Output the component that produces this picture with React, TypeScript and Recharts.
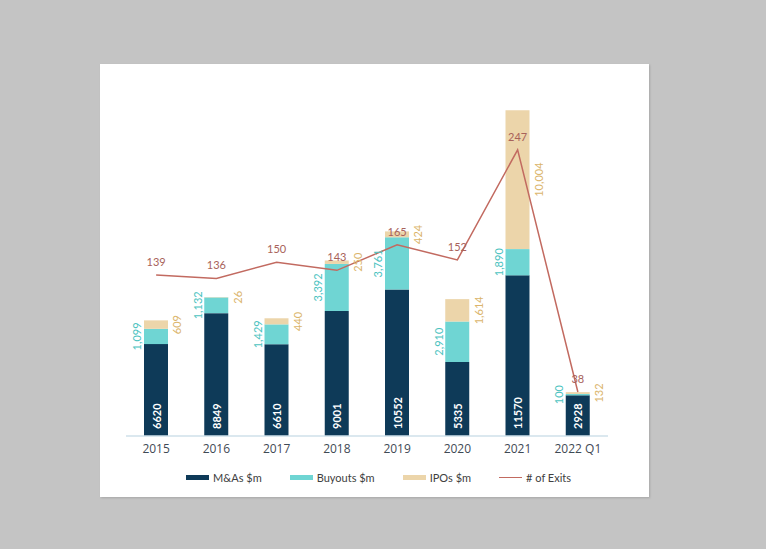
import React from 'react'
import {
  ComposedChart,
  Bar,
  Line,
  XAxis,
  YAxis,
  Legend,
  LabelList,
} from 'recharts'

const years = ['2015', '2016', '2017', '2018', '2019', '2020', '2021', '2022 Q1']
const mnaValues = [6620, 8849, 6610, 9001, 10552, 5335, 11570, 2928]
const buyoutValues = [1099, 1132, 1429, 3392, 3761, 2910, 1890, 100]
const ipoValues = [609, 26, 440, 250, 424, 1614, 10004, 132]
const exitCounts = [139, 136, 150, 143, 165, 152, 247, 38]

const NAVY = '#0e3a58'
const TEAL = '#6fd5d3'
const TAN = '#ecd5aa'
const LINE = '#c26a60'

const data = years.map((year, i) => ({
  year,
  mna: mnaValues[i],
  buyouts: buyoutValues[i],
  ipos: ipoValues[i],
  exits: exitCounts[i],
}))

const labelFont = 'Lato, "Open Sans", sans-serif'

function rotatedText(cx: number, cy: number, text: string, fill: string, anchor: 'start' | 'middle', bold = false) {
  return (
    <text
      x={cx}
      y={cy}
      transform={`rotate(-90 ${cx} ${cy})`}
      fill={fill}
      fontSize={11}
      fontFamily={labelFont}
      fontWeight={bold ? 700 : 400}
      textAnchor={anchor}
      dominantBaseline="central"
    >
      {text}
    </text>
  )
}

const mnaLabel = (props: any) => {
  const { x, y, width, height, value } = props
  const cx = Number(x) + Number(width) / 2
  const cy = Number(y) + Number(height) - 7
  return rotatedText(cx, cy, String(value), '#ffffff', 'start', true)
}

const buyoutLabel = (props: any) => {
  const { x, y, height, value } = props
  const cx = Number(x) - 7
  const cy = Number(y) + Number(height) / 2
  return rotatedText(cx, cy, Number(value).toLocaleString('en-US'), '#4cc3bf', 'middle')
}

const ipoLabel = (props: any) => {
  const { x, y, width, height, value } = props
  const cx = Number(x) + Number(width) + 9
  const cy = Number(y) + Number(height) / 2
  return rotatedText(cx, cy, Number(value).toLocaleString('en-US'), '#dbb56c', 'middle')
}

const legendItems = [
  { name: 'M&As $m', color: NAVY, type: 'bar' },
  { name: 'Buyouts $m', color: TEAL, type: 'bar' },
  { name: 'IPOs $m', color: TAN, type: 'bar' },
  { name: '# of Exits', color: LINE, type: 'line' },
]

function LegendRow() {
  return (
    <div
      style={{
        display: 'flex',
        justifyContent: 'center',
        alignItems: 'center',
        gap: 28,
        height: 23,
        paddingLeft: 8,
        fontFamily: labelFont,
        fontSize: 11,
        color: '#404040',
      }}
    >
      {legendItems.map((it) => (
        <div key={it.name} style={{ display: 'flex', alignItems: 'center', gap: 4 }}>
          <span
            style={{
              display: 'inline-block',
              width: 23,
              height: it.type === 'bar' ? 5 : 1.5,
              background: it.color,
            }}
          />
          <span>{it.name}</span>
        </div>
      ))}
    </div>
  )
}

export default function App() {
  return (
    <div style={{ position: 'fixed', top: 0, left: 0, width: 766, height: 549, background: '#c4c4c4' }}>
      <div
        style={{
          position: 'absolute',
          left: 100,
          top: 64,
          width: 549,
          height: 433,
          background: '#ffffff',
          boxShadow: '1px 1px 2px rgba(0,0,0,0.15)',
        }}
      >
        <ComposedChart
          width={549}
          height={433}
          data={data}
          margin={{ top: 36, right: 41, left: 26, bottom: 8 }}
        >
          <XAxis
            dataKey="year"
            height={30}
            tickLine={false}
            axisLine={{ stroke: '#cfe0ea', strokeWidth: 1.5 }}
            tick={{ fill: '#3f4a55', fontSize: 12, fontFamily: '"Open Sans", sans-serif' }}
            interval={0}
          />
          <YAxis yAxisId="l" hide domain={[0, 24200]} />
          <YAxis yAxisId="r" hide orientation="right" domain={[0, 290]} />
          <Legend
            verticalAlign="bottom"
            height={23}
            wrapperStyle={{ left: 0, width: 549, height: 23 }}
            content={() => <LegendRow />}
          />
          <Bar yAxisId="l" dataKey="mna" stackId="a" fill={NAVY} barSize={24} isAnimationActive={false}>
            <LabelList dataKey="mna" content={mnaLabel} />
          </Bar>
          <Bar yAxisId="l" dataKey="buyouts" stackId="a" fill={TEAL} barSize={24} isAnimationActive={false}>
            <LabelList dataKey="buyouts" content={buyoutLabel} />
          </Bar>
          <Bar yAxisId="l" dataKey="ipos" stackId="a" fill={TAN} barSize={24} isAnimationActive={false}>
            <LabelList dataKey="ipos" content={ipoLabel} />
          </Bar>
          <Line
            yAxisId="r"
            dataKey="exits"
            stroke={LINE}
            strokeWidth={1.5}
            dot={false}
            type="linear"
            isAnimationActive={false}
          >
            <LabelList
              dataKey="exits"
              position="top"
              offset={9}
              fill="#a8625a"
              fontSize={11}
              fontFamily={labelFont}
            />
          </Line>
        </ComposedChart>
      </div>
    </div>
  )
}
